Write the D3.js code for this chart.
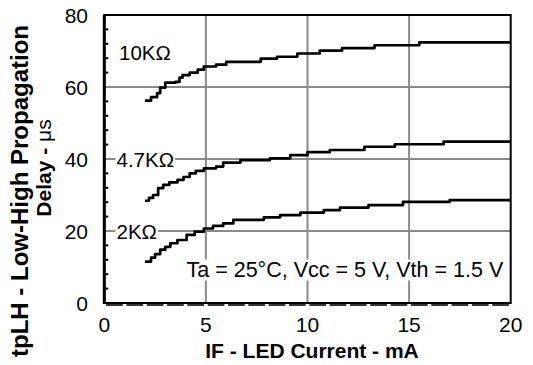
<!DOCTYPE html>
<html>
<head>
<meta charset="utf-8">
<script src="https://cdn.jsdelivr.net/npm/d3@7"></script>
<style>
  html, body { margin: 0; padding: 0; background: #fff; }
  svg { display: block; }
  text { font-family: "Liberation Sans", Arial, sans-serif; fill: #000; }
</style>
</head>
<body>
<svg id="chart" width="533" height="365"></svg>
<script>
// Propagation delay tpLH versus LED forward current, for three pull-up resistors
const xTicks = [0, 5, 10, 15, 20];
const yTicks = [0, 20, 40, 60, 80];
const xGrid = [5, 10, 15];
const yGrid = [20, 40, 60];

// IF (mA) / tpLH (us) step points for each load resistor
const if10k = [2.0, 2.3, 2.6, 2.75, 3.0, 3.5, 3.7, 3.85, 4.2, 4.6, 4.9, 5.5, 6.0, 7.7, 8.5, 9.5, 10.6, 11.7, 13.3, 15.5, 20];
const tp10k = [56.2, 57.2, 58.3, 59.8, 61.2, 61.4, 62.6, 63.3, 64.0, 64.8, 65.7, 66.2, 67.0, 67.9, 68.4, 69.3, 70.1, 70.8, 71.6, 72.4, 72.4];

const if47k = [2.0, 2.2, 2.4, 2.65, 2.9, 3.2, 3.6, 3.9, 4.2, 4.5, 4.9, 5.5, 5.85, 6.7, 8.15, 9.15, 10.0, 11.1, 12.8, 14.3, 16.7, 20];
const tp47k = [28.4, 29.2, 30.0, 31.9, 32.8, 33.5, 34.2, 35.0, 36.0, 36.7, 37.4, 37.9, 39.0, 39.7, 40.2, 41.1, 41.9, 42.5, 43.4, 44.1, 44.8, 44.8];

const if2k = [2.0, 2.3, 2.5, 2.75, 3.0, 3.25, 3.6, 4.05, 4.45, 4.9, 5.35, 5.85, 6.35, 7.85, 8.65, 9.65, 10.8, 11.6, 13.0, 14.7, 17.0, 20];
const tp2k = [11.5, 12.6, 13.6, 14.8, 15.6, 16.6, 17.5, 18.9, 19.8, 20.7, 21.4, 22.1, 23.1, 23.8, 24.4, 25.1, 25.8, 26.5, 27.2, 28.1, 28.6, 28.6];

const seriesNames = ["10KΩ", "4.7KΩ", "2KΩ"];
const noteText = "Ta = 25°C, Vcc = 5 V, Vth = 1.5 V";

const svg = d3.select("#chart");
const plot = { left: 104.3, right: 510.7, top: 15, bottom: 303 };

const x = d3.scaleLinear().domain([0, 20]).range([plot.left, plot.right]);
const y = d3.scaleLinear().domain([0, 80]).range([plot.bottom, plot.top]);

// gridlines
svg.append("g").selectAll("line").data(xGrid).join("line")
  .attr("x1", d => x(d)).attr("x2", d => x(d))
  .attr("y1", plot.top).attr("y2", plot.bottom)
  .attr("stroke", "#8a8a8a").attr("stroke-width", 2);
svg.append("g").selectAll("line").data(yGrid).join("line")
  .attr("x1", plot.left).attr("x2", plot.right)
  .attr("y1", d => y(d)).attr("y2", d => y(d))
  .attr("stroke", "#8a8a8a").attr("stroke-width", 2);

// minor ticks on the y axis (every 4 us, pointing inward)
const yMinor = d3.range(0, 81, 4).filter(v => v % 20 !== 0);
svg.append("g").selectAll("line").data(yMinor).join("line")
  .attr("x1", plot.left).attr("x2", plot.left + 4)
  .attr("y1", d => y(d)).attr("y2", d => y(d))
  .attr("stroke", "#000").attr("stroke-width", 2);

// minor tick band under the x axis (one segment per mA)
svg.append("g").selectAll("line").data(d3.range(0, 20)).join("line")
  .attr("x1", d => x(d) + 1.8).attr("x2", d => x(d + 1) - 1.8)
  .attr("y1", plot.bottom + 2).attr("y2", plot.bottom + 2)
  .attr("stroke", "#000").attr("stroke-width", 1.6);

// frame
svg.append("rect")
  .attr("x", plot.left).attr("y", plot.top)
  .attr("width", plot.right - plot.left).attr("height", plot.bottom - plot.top)
  .attr("fill", "none").attr("stroke", "#000").attr("stroke-width", 2);
svg.append("line")
  .attr("x1", plot.left).attr("x2", plot.left)
  .attr("y1", plot.top).attr("y2", plot.bottom + 1)
  .attr("stroke", "#000").attr("stroke-width", 3);

// curves
const line = d3.line().x(d => x(d[0])).y(d => y(d[1])).curve(d3.curveStepAfter);
const curves = [
  d3.zip(if10k, tp10k),
  d3.zip(if47k, tp47k),
  d3.zip(if2k, tp2k)
];
svg.append("g").selectAll("path").data(curves).join("path")
  .attr("d", line)
  .attr("fill", "none").attr("stroke", "#000").attr("stroke-width", 2.7)
  .attr("stroke-linejoin", "round");

// series labels
function boxedLabel(txt, tx, ty, size, anchor) {
  const g = svg.append("g");
  const t = g.append("text").attr("x", tx).attr("y", ty)
    .attr("font-size", size).attr("text-anchor", anchor || "start").text(txt);
  const b = t.node().getBBox();
  g.insert("rect", "text")
    .attr("x", b.x - 1).attr("y", b.y + 2)
    .attr("width", b.width + 2).attr("height", b.height - 3)
    .attr("fill", "#fff");
  return g;
}
svg.append("text").attr("x", 119).attr("y", 60).attr("font-size", 20.5).text(seriesNames[0]);
boxedLabel(seriesNames[1], 116.5, y(40) + 7.5, 20.5);
boxedLabel(seriesNames[2], 116.5, y(20) + 7.5, 20.5);

// test conditions
boxedLabel(noteText, 186.5, 276.5, 21.5);

// tick labels
svg.append("g").selectAll("text").data(xTicks).join("text")
  .attr("x", d => x(d)).attr("y", 332)
  .attr("text-anchor", "middle").attr("font-size", 21).text(d => d);
svg.append("g").selectAll("text").data(yTicks).join("text")
  .attr("x", 88).attr("y", d => y(d) + 7.5)
  .attr("text-anchor", "end").attr("font-size", 21).text(d => d);

// axis titles
svg.append("text").attr("x", 312).attr("y", 358)
  .attr("text-anchor", "middle").attr("font-size", 21).attr("font-weight", "bold")
  .text("IF - LED Current - mA");

svg.append("text")
  .attr("transform", "translate(28,191) rotate(-90)")
  .attr("text-anchor", "middle").attr("font-size", 24).attr("font-weight", "bold")
  .text("tpLH - Low-High Propagation");
const t2 = svg.append("text")
  .attr("transform", "translate(51,168) rotate(-90)")
  .attr("text-anchor", "middle").attr("font-size", 21).attr("font-weight", "bold");
t2.append("tspan").text("Delay - ");
t2.append("tspan").attr("font-weight", "normal").text("μs");
</script>
</body>
</html>
